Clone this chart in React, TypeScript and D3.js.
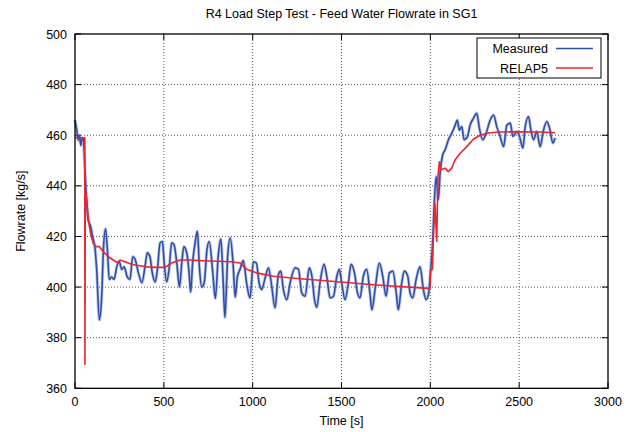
import React from "react";
import * as d3 from "d3";

const title = "R4 Load Step Test - Feed Water Flowrate in SG1";
const xLabel = "Time [s]";
const yLabel = "Flowrate [kg/s]";
const xTicks = [0, 500, 1000, 1500, 2000, 2500, 3000];
const yTicks = [360, 380, 400, 420, 440, 460, 480, 500];
const seriesNames = ["Measured", "RELAP5"];

const measuredT = [
  0, 10, 18, 25, 33, 40, 48, 56, 65, 74, 88, 99, 113, 122, 137, 150, 160, 172, 182, 193,
  206, 220, 235, 250, 263, 277, 294, 309, 325, 338, 357, 376, 394, 407, 422, 435, 451, 464, 479, 492,
  502, 516, 531, 544, 557, 573, 588, 601, 613, 629, 642, 651, 662, 676, 689, 700, 714, 728, 743, 756,
  775, 790, 807, 821, 833, 844, 860, 874, 889, 902, 914, 929, 947, 966, 985, 1004, 1021, 1036, 1051, 1070,
  1089, 1107, 1126, 1145, 1158, 1173, 1192, 1211, 1239, 1258, 1276, 1295, 1319, 1334, 1348, 1361, 1379, 1402, 1417, 1436,
  1455, 1474, 1488, 1501, 1520, 1539, 1554, 1573, 1590, 1604, 1623, 1642, 1661, 1671, 1690, 1713, 1732, 1751, 1770, 1789,
  1808, 1820, 1839, 1854, 1873, 1886, 1901, 1920, 1942, 1961, 1976, 1989, 2001, 2014, 2022, 2033, 2045, 2055, 2070, 2083,
  2102, 2121, 2140, 2152, 2163, 2177, 2190, 2209, 2224, 2243, 2261, 2276, 2295, 2314, 2337, 2356, 2374, 2393, 2412, 2431,
  2450, 2465, 2487, 2502, 2521, 2534, 2553, 2566, 2581, 2599, 2618, 2637, 2656, 2671, 2690, 2702,
];
const measuredV = [
  466, 462, 458, 460, 456, 459, 458, 446, 434.5, 426.6, 424, 420, 415, 407, 387, 396, 415, 423, 415, 403,
  404, 403, 408, 410, 407, 408, 404, 403, 412, 411, 405.6, 401.7, 408, 413.5, 412, 405.6, 402, 407, 417.5, 418,
  409.5, 402, 408, 417.5, 416.8, 409.5, 400, 409.5, 416, 413.5, 405.6, 398, 409.5, 417.5, 422, 408, 400, 402, 415, 418,
  406, 395.5, 413, 419, 404, 388, 413, 419.4, 410, 396, 404, 407, 410.5, 401.5, 395.7, 410, 409.5, 401.7, 399, 403.6,
  407.6, 400.4, 391.8, 405, 406.3, 399, 395, 401.7, 407.6, 407, 397.7, 396.4, 407.6, 404, 395, 392, 401.7, 409, 404.3, 395.7,
  396.4, 404.3, 407, 401.7, 395, 401.7, 409, 405.6, 397.7, 395.7, 404.3, 407, 397, 391, 399.7, 409.5, 404.3, 396.4, 405.6, 406.3,
  397.7, 391, 401.7, 406.3, 404.3, 397.7, 395.7, 403, 408, 399, 395, 397, 406, 419, 433, 443.7, 434.5, 445, 452.3, 454.2,
  458.2, 460.8, 464, 466, 462, 463.4, 458.2, 459.5, 464, 466.7, 468.7, 462.8, 458.2, 460.8, 466, 468, 463.4, 459.5, 455.5, 464,
  464.8, 459.5, 461.5, 459.5, 454.9, 463.4, 467.4, 462.1, 458.2, 461.5, 455.5, 462, 465.4, 462.8, 456.9, 458.9,
];

const relapT = [
  0, 55, 56, 58, 66, 75, 88, 103, 118, 137, 159, 187, 216, 240, 253, 281, 319, 347, 403, 460,
  507, 544, 591, 647, 722, 760, 880, 929, 966, 1022, 1116, 1266, 1375, 1698, 1989, 1998, 2001, 2012, 2017, 2026,
  2036, 2043, 2051, 2059, 2083, 2101, 2120, 2139, 2167, 2205, 2242, 2280, 2336, 2392, 2505, 2617, 2702,
];
const relapV = [
  459, 459, 369.5, 438, 434.5, 426.6, 421, 417.3, 416, 416, 414, 412, 410.7, 409.6, 410.7, 410, 409, 408.6, 408, 407.8,
  407.8, 409.5, 410.7, 410.7, 410.4, 410.3, 410, 409.5, 407, 405.6, 404.3, 403.3, 402.7, 400.8, 399.5, 399.5, 406.5, 407, 420, 433,
  418, 444, 449.5, 446.3, 447, 445.6, 447, 450.2, 452.8, 455.5, 458.4, 460, 461, 461.3, 461.4, 461.3, 461,
];

const W = 632;
const H = 432;
const M = { left: 75, right: 608, top: 34, bottom: 388.3 };
const FONT = "'Liberation Sans', Arial, Helvetica, sans-serif";
const BLUE = "#2f4fa6";
const RED = "#f0222c";

export default function App() {
  const x = d3.scaleLinear().domain([0, 3000]).range([M.left, M.right]);
  const y = d3.scaleLinear().domain([360, 500]).range([M.bottom, M.top]);

  const measured = measuredT.map((t, i) => [t, measuredV[i]] as [number, number]);
  const relap = relapT.map((t, i) => [t, relapV[i]] as [number, number]);

  const lineM = d3
    .line<[number, number]>()
    .x((d) => x(d[0]))
    .y((d) => y(d[1]))
    .curve(d3.curveMonotoneX);
  const lineR = d3
    .line<[number, number]>()
    .x((d) => x(d[0]))
    .y((d) => y(d[1]));

  const tickLen = 6;
  const legendLeft = 477;
  const legendTop = 38;
  const legendRight = 601;
  const legendBottom = 78;

  return (
    <svg
      width={W}
      height={H}
      style={{ position: "absolute", left: 0, top: 0, background: "#fff" }}
      fontFamily={FONT}
    >
      <rect x={0} y={0} width={W} height={H} fill="#fff" />
      <text x={(M.left + M.right) / 2} y={18} textAnchor="middle" fontSize={12.5} fill="#000">
        {title}
      </text>

      {/* grid */}
      {xTicks
        .filter((t) => t > 0 && t < 3000)
        .map((t) => (
          <line
            key={"gx" + t}
            x1={x(t)}
            x2={x(t)}
            y1={M.top}
            y2={M.bottom}
            stroke="#555"
            strokeWidth={1}
            strokeDasharray="1,2"
          />
        ))}
      {yTicks
        .filter((t) => t > 360 && t < 500)
        .map((t) => (
          <line
            key={"gy" + t}
            x1={M.left}
            x2={M.right}
            y1={y(t)}
            y2={y(t)}
            stroke="#555"
            strokeWidth={1}
            strokeDasharray="1,2"
          />
        ))}

      {/* ticks (mirrored, inward) */}
      {xTicks.map((t) => (
        <g key={"tx" + t}>
          <line x1={x(t)} x2={x(t)} y1={M.bottom} y2={M.bottom - tickLen} stroke="#000" />
          <line x1={x(t)} x2={x(t)} y1={M.top} y2={M.top + tickLen} stroke="#000" />
          <text x={x(t)} y={406} textAnchor="middle" fontSize={12.5} fill="#000">
            {t}
          </text>
        </g>
      ))}
      {yTicks.map((t) => (
        <g key={"ty" + t}>
          <line x1={M.left} x2={M.left + tickLen} y1={y(t)} y2={y(t)} stroke="#000" />
          <line x1={M.right} x2={M.right - tickLen} y1={y(t)} y2={y(t)} stroke="#000" />
          <text x={67} y={y(t) + 4.5} textAnchor="end" fontSize={12.5} fill="#000">
            {t}
          </text>
        </g>
      ))}

      {/* data */}
      <path d={lineM(measured) || ""} fill="none" stroke="#8c9fd6" strokeWidth={3.2} strokeOpacity={0.55} strokeLinejoin="round" />
      <path d={lineM(measured) || ""} fill="none" stroke={BLUE} strokeWidth={1.6} strokeLinejoin="round" />
      <path d={lineR(relap) || ""} fill="none" stroke={RED} strokeWidth={1.6} strokeLinejoin="round" />

      {/* frame */}
      <rect
        x={M.left}
        y={M.top}
        width={M.right - M.left}
        height={M.bottom - M.top}
        fill="none"
        stroke="#000"
        strokeWidth={1.3}
      />

      {/* legend */}
      <rect
        x={legendLeft}
        y={legendTop}
        width={legendRight - legendLeft}
        height={legendBottom - legendTop}
        fill="#fff"
        stroke="#000"
        strokeWidth={1}
      />
      {seriesNames.map((name, i) => (
        <g key={name}>
          <text x={548} y={53 + i * 19.5} textAnchor="end" fontSize={12.5} fill="#000">
            {name}
          </text>
          <line
            x1={556}
            x2={593}
            y1={48.5 + i * 19.5}
            y2={48.5 + i * 19.5}
            stroke={i === 0 ? BLUE : RED}
            strokeWidth={1.5}
          />
        </g>
      ))}

      {/* axis labels */}
      <text x={(M.left + M.right) / 2} y={425} textAnchor="middle" fontSize={12.5} fill="#000">
        {xLabel}
      </text>
      <text
        transform={`translate(25, ${(M.top + M.bottom) / 2}) rotate(-90)`}
        textAnchor="middle"
        fontSize={12.5}
        fill="#000"
      >
        {yLabel}
      </text>
    </svg>
  );
}
